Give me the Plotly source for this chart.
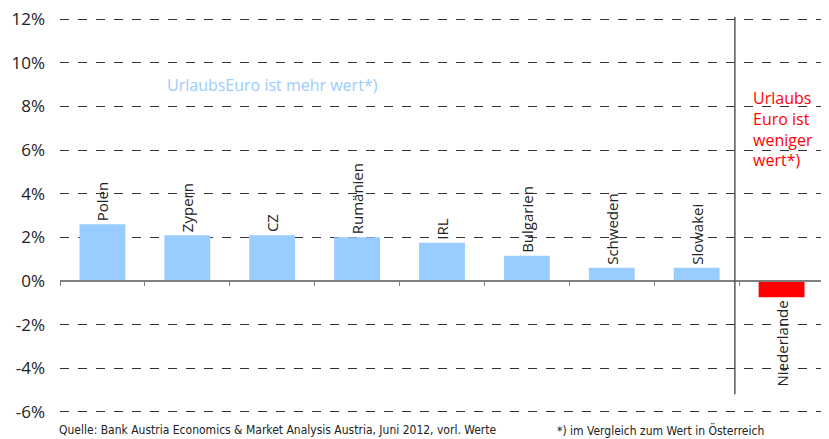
import plotly.graph_objects as go

countries = ["Polen", "Zypern", "CZ", "Rumänien", "IRL", "Bulgarien", "Schweden", "Slowakei", "Niederlande"]
values = [2.6, 2.1, 2.1, 2.0, 1.75, 1.15, 0.6, 0.6, -0.75]
colors = ["#99CCFF"] * 8 + ["#FF0000"]
y_ticks = [-6, -4, -2, 0, 2, 4, 6, 8, 10, 12]
y_tick_labels = [f"{v}%" for v in y_ticks]

FONT = "Open Sans"
Y_MIN, Y_MAX = -6.1, 12.1

fig = go.Figure()
fig.add_trace(go.Bar(
    x=countries, y=values,
    marker=dict(color=colors, line=dict(width=0)),
    width=0.54,
    text=countries,
    textposition="outside",
    textangle=-90,
    constraintext="none",
    textfont=dict(family=FONT, size=15, color="#222222"),
    cliponaxis=False,
    hoverinfo="skip",
))

# page body adds an 8px offset, so the figure is 8px smaller than the window
fig.update_layout(
    width=821, height=431,
    margin=dict(l=52, r=5, t=9, b=25, autoexpand=False),
    paper_bgcolor="white", plot_bgcolor="white",
    showlegend=False,
    font=dict(family=FONT, color="#222222"),
)
fig.update_xaxes(
    type="category",
    anchor="free", position=(0 - Y_MIN) / (Y_MAX - Y_MIN),
    showline=True, linecolor="#808080", linewidth=1.5,
    ticks="outside", tickson="boundaries", ticklen=4, tickcolor="#808080",
    showticklabels=False, showgrid=False, zeroline=False,
    range=[-0.5, 8.5],
)
fig.update_yaxes(
    range=[Y_MIN, Y_MAX],
    tickvals=y_ticks, ticktext=y_tick_labels,
    tickfont=dict(family=FONT, size=17, color="#222222"),
    showgrid=True, gridcolor="#333333", griddash="dash", gridwidth=1,
    zeroline=False, showline=False, ticks="", ticklabelstandoff=14,
    ticklabeloverflow="allow",
)

# separator line between the two groups
fig.add_shape(type="line", xref="x", yref="y", x0=7.45, x1=7.45, y0=-5.2, y1=12.2,
              line=dict(color="#555555", width=1.5))

fig.add_annotation(x=2, y=9, xref="x", yref="y", text="UrlaubsEuro ist mehr wert*)",
                   showarrow=False, font=dict(family=FONT, size=16, color="#99CCFF"))
fig.add_annotation(x=7.64, y=6.95, xref="x", yref="y", xanchor="left", align="left",
                   text="Urlaubs<br>Euro ist<br>weniger<br>wert*)",
                   showarrow=False, font=dict(family=FONT, size=16, color="#FF0000"))

footer_font = dict(family="Liberation Sans Narrow, DejaVu Sans Condensed", size=12, color="#222222")
fig.add_annotation(x=-3/764, y=-16/397, xref="paper", yref="paper", xanchor="left", yanchor="middle",
                   text="Quelle: Bank Austria Economics & Market Analysis Austria, Juni 2012, vorl. Werte",
                   showarrow=False, font=footer_font)
fig.add_annotation(x=495/764, y=-16/397, xref="paper", yref="paper", xanchor="left", yanchor="middle",
                   text="*) im Vergleich zum Wert in Österreich",
                   showarrow=False, font=footer_font)

fig.write_html("out.html")
